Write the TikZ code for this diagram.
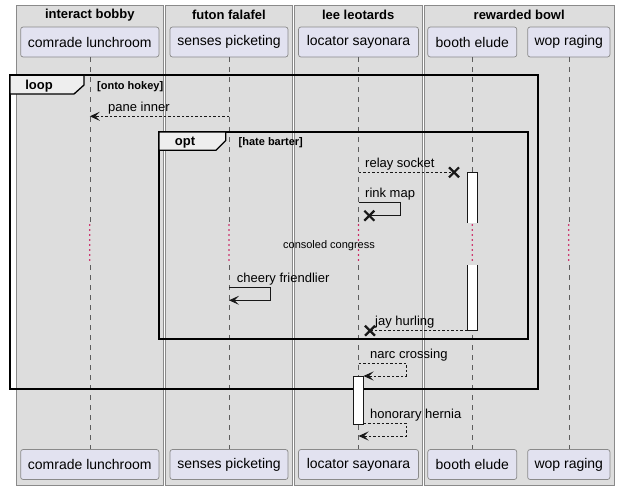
\documentclass[tikz,border=0pt]{standalone}
\usepackage{fontspec}
\setmainfont{Liberation Sans}
\usetikzlibrary{arrows.meta}
\definecolor{partfill}{HTML}{E2E2F0}
\definecolor{boxbg}{HTML}{DDDDDD}
\definecolor{boxline}{HTML}{8A8A8A}
\definecolor{lineclr}{HTML}{181818}
\definecolor{tabfill}{HTML}{EEEEEE}
\definecolor{delayclr}{HTML}{C8004A}
\begin{document}
\begin{tikzpicture}[x=1pt,y=-1pt,
  grpbox/.style={draw=boxline, fill=boxbg, line width=0.7pt},
  grptitle/.style={font=\fontsize{13}{15}\selectfont\bfseries, anchor=center},
  part/.style={draw=boxline, fill=partfill, rounded corners=2.5pt, minimum height=30pt, inner sep=0pt, line width=0.7pt, font=\fontsize{14}{16}\selectfont},
  lifeline/.style={draw=lineclr!70, line width=0.6pt, dash pattern=on 5pt off 5pt},
  delayline/.style={draw=delayclr, line width=1.7pt, line cap=round, dash pattern=on 0pt off 5pt},
  frameline/.style={draw=black, line width=1.9pt},
  tabshape/.style={draw=black, fill=tabfill, line width=1.3pt},
  frametitle/.style={font=\fontsize{13}{15}\selectfont\bfseries, anchor=base},
  guard/.style={font=\fontsize{11}{13}\selectfont\bfseries, anchor=base west, inner sep=0pt},
  msglabel/.style={font=\fontsize{13}{15}\selectfont, anchor=base west, inner sep=0pt},
  msg/.style={draw=lineclr, line width=0.9pt},
  dmsg/.style={draw=lineclr, line width=0.9pt, dash pattern=on 2.5pt off 2pt},
  tip/.style={-{Stealth[length=10pt,width=9pt,inset=4.5pt]}},
  xmark/.style={draw=lineclr, line width=2.2pt},
  act/.style={draw=lineclr, fill=white, line width=1pt}
]
\useasboundingbox (0,0) rectangle (619,490);
\fill[white] (0,0) rectangle (619,490);

% group boxes
\path[grpbox] (16,5.5) rectangle (163.5,485);
\path[grpbox] (165.7,5.5) rectangle (292,485);
\path[grpbox] (294,5.5) rectangle (422.3,485);
\path[grpbox] (424.3,5.5) rectangle (614,485);
\node[grptitle] (g1) at (89.8,15) {interact bobby};
\node[grptitle] (g2) at (228.9,15) {futon falafel};
\node[grptitle] (g3) at (358.2,15) {lee leotards};
\node[grptitle] (g4) at (519.2,15) {rewarded bowl};

% participants
\node[part, minimum width=138.3pt] (cl) at (89.8,42) {comrade lunchroom};
\node[part, minimum width=118pt] (sp) at (229,42) {senses picketing};
\node[part, minimum width=120pt] (ls) at (358.5,42) {locator sayonara};
\node[part, minimum width=89pt] (be) at (472.3,42) {booth elude};
\node[part, minimum width=82.3pt] (wr) at (568.8,42) {wop raging};
\node[part, minimum width=138.3pt] (clb) at (89.8,464.5) {comrade lunchroom};
\node[part, minimum width=118pt] (spb) at (229,464.5) {senses picketing};
\node[part, minimum width=120pt] (lsb) at (358.5,464.5) {locator sayonara};
\node[part, minimum width=89pt] (beb) at (472.3,464.5) {booth elude};
\node[part, minimum width=82.3pt] (wrb) at (568.8,464.5) {wop raging};

% lifelines
\foreach \p in {cl,sp,ls,be,wr}{
  \draw[lifeline] (\p.south) -- (\p |- 0,223);
  \draw[delayline] (\p |- 0,225) -- (\p |- 0,264);
  \draw[lifeline] (\p |- 0,265) -- (\p b.north);
}

% loop frame
\draw[frameline] (10,75.3) rectangle (537.7,388.7);
\draw[tabshape] (10,75.3) -- (84,75.3) -- (84,85) -- (74,94) -- (10,94) -- cycle;
\node[frametitle] (loopt) at (39,89.5) {loop};
\node[guard] (loopg) at (97,89.3) {[onto hokey]};

% pane inner
\draw[dmsg, tip] (sp |- 0,116.3) -- (cl |- 0,116.3);
\node[msglabel] (l1) at (108,111.3) {pane inner};

% opt frame
\draw[frameline] (159,132) rectangle (527.7,339.3);
\draw[tabshape] (159,132) -- (225.7,132) -- (225.7,140.5) -- (216,150.3) -- (159,150.3) -- cycle;
\node[frametitle] (optt) at (185,145.5) {opt};
\node[guard] (optg) at (238.5,145.3) {[hate barter]};

% activation on booth elude
\fill[white] (467.3,172.3) rectangle (477.5,223);
\draw[act] (467.3,223) -- (467.3,172.3) -- (477.5,172.3) -- (477.5,223);
\fill[white] (467.3,265) rectangle (477.5,330.7);
\draw[act] (467.3,265) -- (467.3,330.7) -- (477.5,330.7) -- (477.5,265);

% relay socket
\coordinate (rsx) at (454,172.3);
\draw[dmsg] (ls |- 0,172.3) -- (rsx);
\draw[xmark] ([shift={(-5,-5)}]rsx) -- ([shift={(5,5)}]rsx);
\draw[xmark] ([shift={(-5,5)}]rsx) -- ([shift={(5,-5)}]rsx);
\node[msglabel] (l2) at (365,167.5) {relay socket};

% rink map
\coordinate (rmx) at (369.3,215.7);
\draw[msg] (ls |- 0,202.3) -- (400.3,202.3) -- (400.3,215.7) -- (rmx);
\draw[xmark] ([shift={(-5,-5)}]rmx) -- ([shift={(5,5)}]rmx);
\draw[xmark] ([shift={(-5,5)}]rmx) -- ([shift={(5,-5)}]rmx);
\node[msglabel] (l3) at (365,197.5) {rink map};

% delay
\node[font=\fontsize{11}{13}\selectfont, anchor=base, inner sep=0pt] (dl) at (329,248.5) {consoled congress};

% cheery friendlier
\draw[msg, tip] (sp |- 0,287.3) -- (270.3,287.3) -- (270.3,300.3) -- (sp |- 0,300.3);
\node[msglabel] (l4) at (236.7,282.7) {cheery friendlier};

% jay hurling
\coordinate (jhx) at (370,330.7);
\draw[dmsg] (467.3,330.7) -- (jhx);
\draw[xmark] ([shift={(-5,-5)}]jhx) -- ([shift={(5,5)}]jhx);
\draw[xmark] ([shift={(-5,5)}]jhx) -- ([shift={(5,-5)}]jhx);
\node[msglabel] (l5) at (375,325.5) {jay hurling};

% activation on locator
\draw[act] (353.3,376) rectangle (363.5,424);

% narc crossing
\draw[dmsg, tip] (ls |- 0,363.3) -- (406,363.3) -- (406,376) -- (363.5,376);
\node[msglabel] (l6) at (370,358.5) {narc crossing};

% honorary hernia
\draw[dmsg, tip] (363.5,423.3) -- (406,423.3) -- (406,436) -- (ls |- 0,436);
\node[msglabel] (l7) at (370,418.5) {honorary hernia};
\end{tikzpicture}
\end{document}
